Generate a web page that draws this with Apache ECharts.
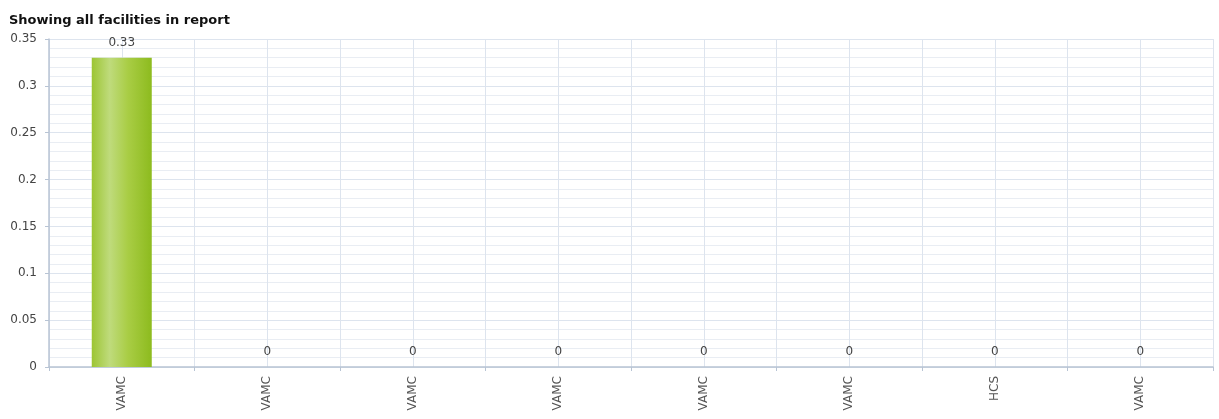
<!DOCTYPE html>
<html>
<head>
<meta charset="utf-8">
<script src="https://cdn.jsdelivr.net/npm/echarts@6/dist/echarts.min.js"></script>
<style>
  html, body { margin: 0; padding: 0; background: #fff; }
  #chart { width: 1219px; height: 419px; }
</style>
</head>
<body>
<div id="chart"></div>
<script>
// facility names and rates
const facilities = ['VAMC', 'VAMC', 'VAMC', 'VAMC', 'VAMC', 'VAMC', 'HCS', 'VAMC'];
const rates = [0.33, 0, 0, 0, 0, 0, 0, 0];

const chart = echarts.init(document.getElementById('chart'));
const font = 'DejaVu Sans';

chart.setOption({
  animation: false,
  title: {
    text: 'Showing all facilities in report',
    left: 4,
    top: 9,
    textStyle: { fontSize: 13, fontWeight: 'bold', color: '#111', fontFamily: font }
  },
  grid: { left: 49, right: 6, top: 39, bottom: 52, containLabel: false },
  xAxis: [
    {
      type: 'category',
      data: facilities,
      axisLine: { lineStyle: { color: '#b8c4d4', width: 1.5 } },
      axisTick: { show: true, length: 4, lineStyle: { color: '#b8c4d4' } },
      axisLabel: { rotate: 90, fontSize: 12, color: '#555', fontFamily: font, margin: 9 },
      splitLine: { show: false }
    },
    {
      // grid lines at category centres and edges
      type: 'value',
      min: 0,
      max: facilities.length * 2,
      interval: 1,
      show: true,
      axisLine: { show: false },
      axisTick: { show: false },
      axisLabel: { show: false },
      splitLine: { show: true, lineStyle: { color: '#dde4ee', width: 1 } }
    }
  ],
  yAxis: {
    type: 'value',
    min: 0,
    max: 0.35,
    interval: 0.05,
    axisLine: { show: true, lineStyle: { color: '#b8c4d4', width: 1.5 } },
    axisTick: { show: true, length: 4, lineStyle: { color: '#b8c4d4' } },
    axisLabel: { fontSize: 12, color: '#444', fontFamily: font, margin: 12 },
    splitLine: { show: true, lineStyle: { color: '#dde4ee' } },
    minorTick: { show: false, splitNumber: 5 },
    minorSplitLine: { show: true, lineStyle: { color: '#e9edf3' } }
  },
  series: [
    {
      type: 'bar',
      data: rates,
      xAxisIndex: 0,
      barWidth: 60,
      itemStyle: {
        color: new echarts.graphic.LinearGradient(0, 0, 1, 0, [
          { offset: 0, color: '#9cc533' },
          { offset: 0.3, color: '#bfdb7c' },
          { offset: 0.6, color: '#a9cd45' },
          { offset: 1, color: '#8dbb1e' }
        ]),
        borderWidth: 0
      },
      label: {
        show: true,
        position: 'top',
        distance: 9,
        fontSize: 12,
        color: '#444',
        fontFamily: font,
        formatter: p => String(p.value)
      }
    }
  ]
});
</script>
</body>
</html>
